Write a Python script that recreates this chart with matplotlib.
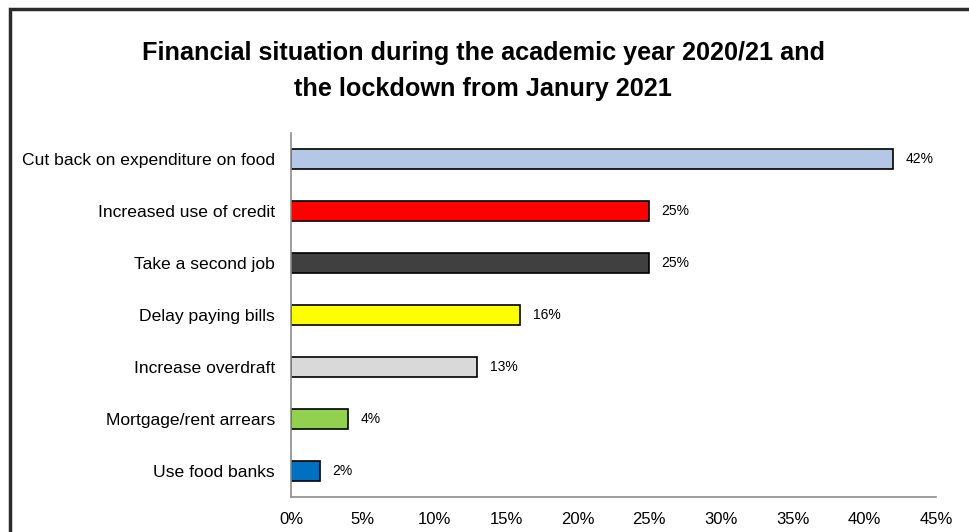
import matplotlib
matplotlib.use("Agg")
import matplotlib.pyplot as plt
from matplotlib.patches import Rectangle

plt.rcParams['font.family'] = ['Liberation Sans', 'DejaVu Sans']

categories = [
    "Cut back on expenditure on food",
    "Increased use of credit",
    "Take a second job",
    "Delay paying bills",
    "Increase overdraft",
    "Mortgage/rent arrears",
    "Use food banks",
]
values = [42, 25, 25, 16, 13, 4, 2]
colors = ["#B4C7E7", "#FF0000", "#404040", "#FFFF00", "#D9D9D9", "#92D050", "#0070C0"]
xticks = [0, 5, 10, 15, 20, 25, 30, 35, 40, 45]

W, H = 969, 532
fig = plt.figure(figsize=(W / 100, H / 100), dpi=100)
ax = fig.add_axes([291 / W, 1 - 497 / H, (936 - 291) / W, (497 - 133) / H])

ypos = list(range(len(categories)))[::-1]
ax.barh(ypos, values, height=0.4, color=colors, edgecolor="black", linewidth=1.2)
for y, v in zip(ypos, values):
    ax.text(v + 0.85, y, f"{v}%", va="center", ha="left", fontsize=10)

ax.set_xlim(0, 45)
ax.set_ylim(-0.5, len(categories) - 0.5)
ax.set_yticks(ypos)
ax.set_yticklabels(categories, fontsize=12.6)
ax.set_xticks(xticks)
ax.set_xticklabels([f"{t}%" for t in xticks], fontsize=12)
ax.tick_params(axis="both", length=0)
ax.tick_params(axis="y", pad=11.5)
ax.tick_params(axis="x", pad=10.5)
for s in ["top", "right"]:
    ax.spines[s].set_visible(False)
for s in ["left", "bottom"]:
    ax.spines[s].set_color("#8c8c8c")
    ax.spines[s].set_linewidth(1.2)

fig.text(0.4985, 1 - 71 / H,
         "Financial situation during the academic year 2020/21 and\nthe lockdown from Janury 2021",
         ha="center", va="center", fontsize=18.2, fontweight="bold", linespacing=1.58)

fig.patches.append(Rectangle((10 / W, -0.05), 1.2, 1 - 9 / H + 0.05,
                             transform=fig.transFigure, fill=False,
                             edgecolor="#2b2b2b", linewidth=2.5))

fig.savefig("out.png", dpi=100)
